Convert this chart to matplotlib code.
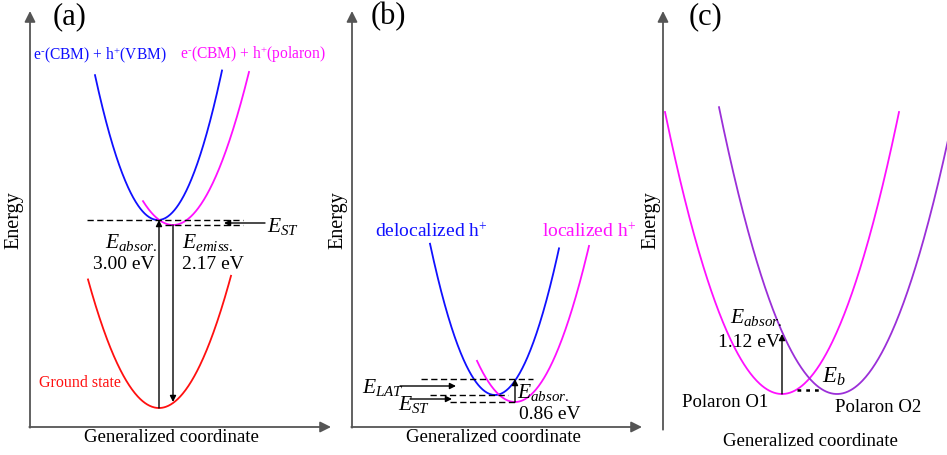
import numpy as np
import matplotlib.pyplot as plt

plt.rcParams['font.family'] = ['Liberation Serif', 'DejaVu Serif']
plt.rcParams['mathtext.fontset'] = 'custom'
plt.rcParams['mathtext.rm'] = 'Liberation Serif'
plt.rcParams['mathtext.it'] = 'Liberation Serif:italic'

# schematic works in picture units (x to the right, energy upwards = y smaller)
W, H = 947, 456

# axis frames of the three panels
axis_x0 = [30, 352, 663]
axis_y0 = [428, 428, 430]
axis_xend = [331, 642, 950]
axis_ytop = [12, 12, 12]
panel_tags = ['(a)', '(b)', '(c)']
tag_x = [70, 388, 705]
xlabel_x = [171, 493, 810]
xlabel_y = [438, 438, 442]
ylabel_x = [14, 338, 651]

# potential energy curves: vertex, curvature, x range, colour
curve_vx = [158, 173, 159, 495, 515, 782, 837]
curve_vy = [221, 226, 409, 396, 403, 395, 395]
curve_k = [0.0365, 0.0265, 0.0255, 0.0358, 0.0285, 0.0206, 0.0206]
curve_x0 = [95, 143, 88, 430, 477, 665, 719]
curve_x1 = [222, 249, 231, 559, 589, 899, 960]
curve_col = ['#1010ff', '#ff10ff', '#ff1010', '#1010ff', '#ff10ff', '#ff10ff', '#9b2fd8']

# dashed reference levels (y, x from, x to)
level_y = [221, 226, 380, 396, 403]
level_x0 = [87, 165, 421, 430, 450]
level_x1 = [243, 243, 533, 508, 515]

# vertical transitions (x, y from, y to)
trans_x = [159, 173, 515, 782]
trans_y0 = [409, 226, 403, 395]
trans_y1 = [221, 403, 380, 335]

# horizontal pointer arrows (x from, x to, y)
ptr_x0 = [265, 400, 410]
ptr_x1 = [224, 456, 452]
ptr_y = [224, 387, 400]

fig = plt.figure(figsize=(W / 100, H / 100), dpi=100)
ax = fig.add_axes([0, 0, 1, 1])
ax.set_xlim(0, W)
ax.set_ylim(H, 0)
ax.axis('off')

axis_col = '#555555'
for i in range(3):
    ax.annotate('', xy=(axis_x0[i], axis_ytop[i]), xytext=(axis_x0[i], axis_y0[i] + 0.7),
                arrowprops=dict(arrowstyle='-|>', color=axis_col, lw=1.3,
                                mutation_scale=16, shrinkA=0, shrinkB=0))
    ax.annotate('', xy=(axis_xend[i], axis_y0[i]), xytext=(axis_x0[i] - 0.7, axis_y0[i]),
                arrowprops=dict(arrowstyle='-|>', color=axis_col, lw=1.3,
                                mutation_scale=16, shrinkA=0, shrinkB=0))
    ax.text(tag_x[i], 17, panel_tags[i], fontsize=22, ha='center', va='center')
    ax.text(xlabel_x[i], xlabel_y[i], 'Generalized coordinate', fontsize=13.5,
            ha='center', va='center')
    ax.text(ylabel_x[i], 220, 'Energy', fontsize=14.5, rotation=90,
            ha='center', va='center')

for vx, vy, k, x0, x1, c in zip(curve_vx, curve_vy, curve_k, curve_x0, curve_x1, curve_col):
    x = np.linspace(x0, x1, 300)
    ax.plot(x, vy - k * (x - vx) ** 2, color=c, lw=1.3, clip_on=True)

for y, x0, x1 in zip(level_y, level_x0, level_x1):
    ax.plot([x0, x1], [y, y], color='black', lw=1.0, ls=(0, (4.5, 2.5)))

for x, y0, y1 in zip(trans_x, trans_y0, trans_y1):
    ax.annotate('', xy=(x, y1), xytext=(x, y0),
                arrowprops=dict(arrowstyle='-|>', color='black', lw=1.0,
                                mutation_scale=9, shrinkA=0, shrinkB=0))

for x0, x1, y in zip(ptr_x0, ptr_x1, ptr_y):
    ax.annotate('', xy=(x1, y), xytext=(x0, y),
                arrowprops=dict(arrowstyle='-|>', color='black', lw=1.0,
                                mutation_scale=9, shrinkA=0, shrinkB=0))

# small barrier marker in (c)
ax.plot([797, 820], [391, 391], color='black', lw=1.8, ls=(0, (1.5, 2)))

# panel (a) labels
ax.text(33, 55, 'e$^{\u2010}$(CBM) + h$^{+}$(VBM)', color='#1010ff', fontsize=11.2, va='center')
ax.text(180, 55, 'e$^{\u2010}$(CBM) + h$^{+}$(polaron)', color='#ff10ff', fontsize=11.2, va='center')
ax.text(267, 227, '$E_{ST}$', fontsize=15.5, va='center')
ax.text(131, 243, '$E_{absor.}$', fontsize=15.5, ha='center', va='center')
ax.text(155, 265, '3.00 eV', fontsize=14, ha='right', va='center')
ax.text(182, 243, '$E_{emiss.}$', fontsize=15.5, va='center')
ax.text(182, 265, '2.17 eV', fontsize=14, va='center')
ax.text(39, 383, 'Ground state', color='#ff1010', fontsize=11.5, va='center')

# panel (b) labels
ax.text(375, 232, 'delocalized h$^{+}$', color='#1010ff', fontsize=14, va='center')
ax.text(542, 232, 'localized h$^{+}$', color='#ff10ff', fontsize=14, va='center')
ax.text(362, 388, '$E_{LAT}$', fontsize=15.5, va='center')
ax.text(398, 405, '$E_{ST}$', fontsize=15.5, va='center')
ax.text(517, 393, '$E_{absor.}$', fontsize=15.5, va='center')
ax.text(519, 415, '0.86 eV', fontsize=14, va='center')

# panel (c) labels
ax.text(730, 318, '$E_{absor.}$', fontsize=15.5, va='center')
ax.text(718, 343, '1.12 eV', fontsize=14, va='center')
ax.text(822, 377, '$E_b$', fontsize=16.5, va='center')
ax.text(682, 403, 'Polaron O1', fontsize=13.5, va='center')
ax.text(835, 408, 'Polaron O2', fontsize=13.5, va='center')

fig.savefig('out.png', dpi=100)
